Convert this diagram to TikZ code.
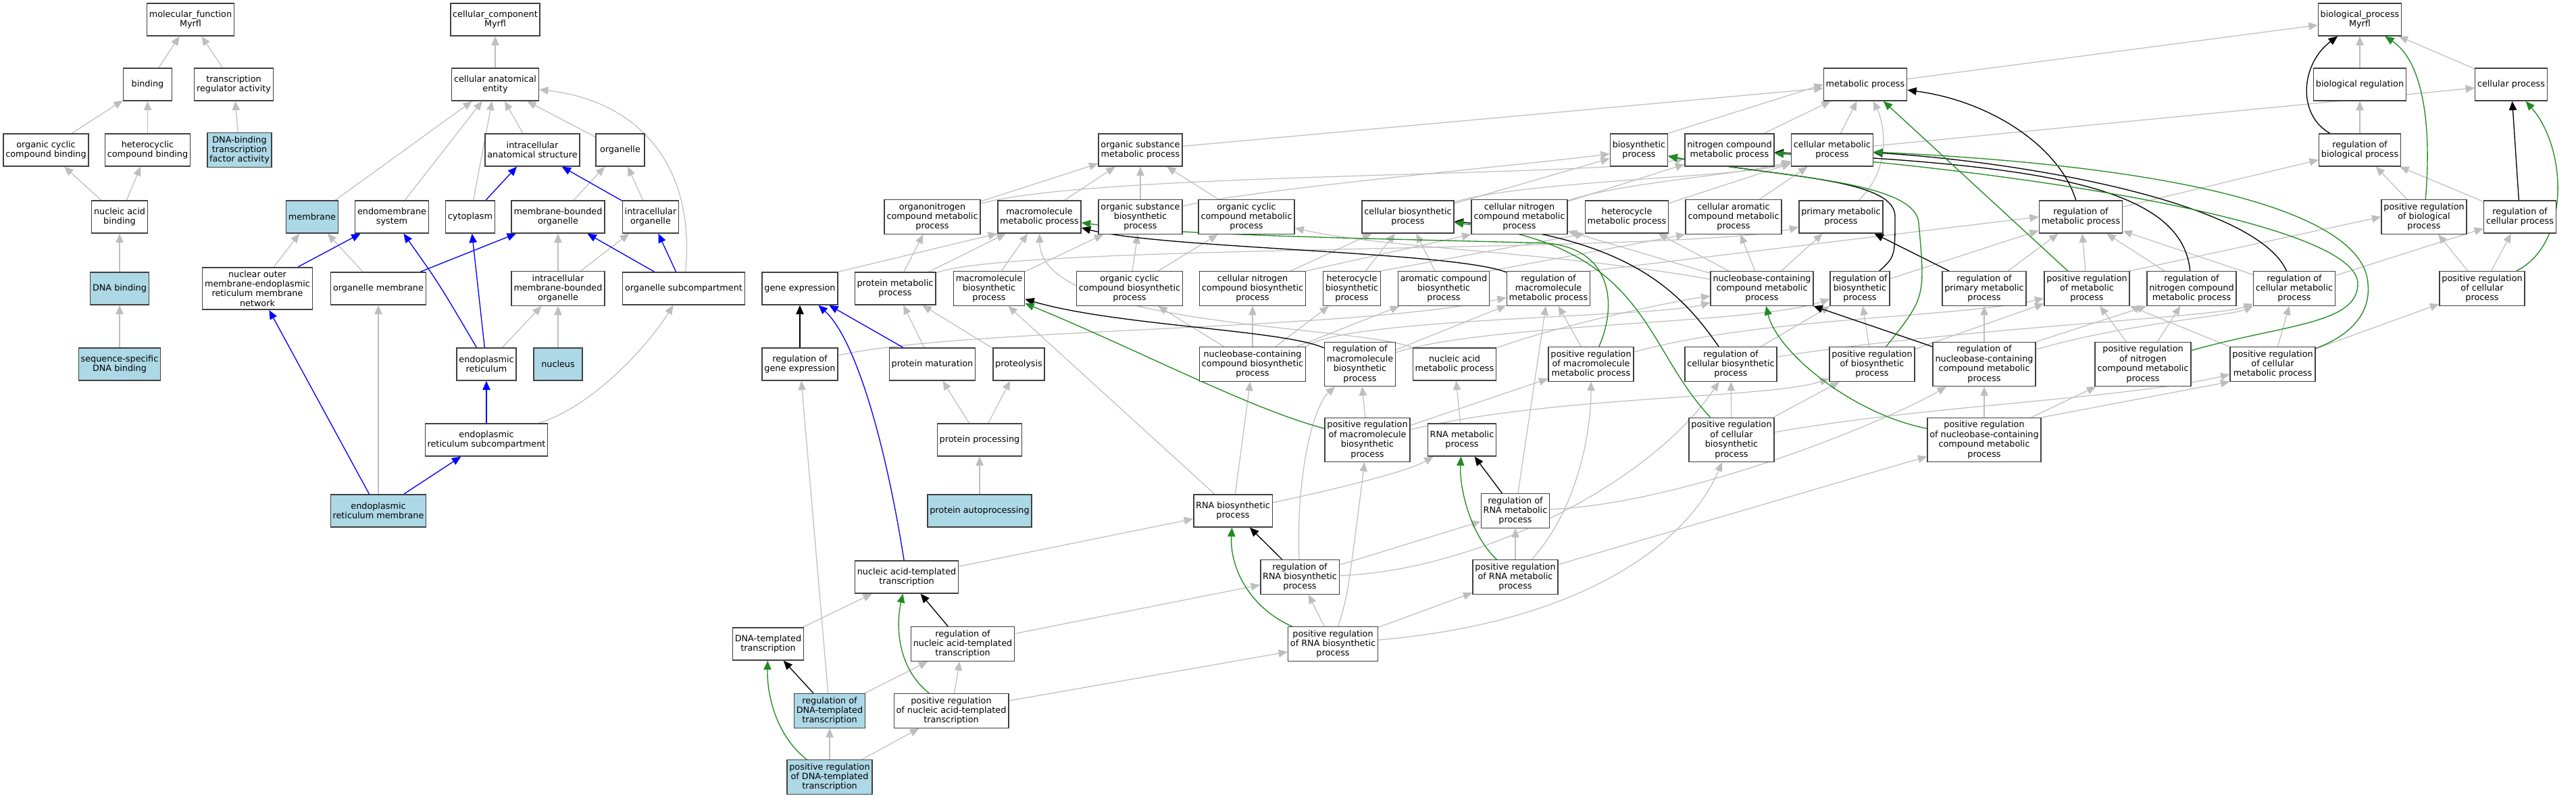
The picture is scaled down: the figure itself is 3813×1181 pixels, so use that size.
\documentclass[tikz,border=0pt]{standalone}
\usepackage{fontspec}
\setmainfont{DejaVu Sans}
\usetikzlibrary{arrows.meta}
\definecolor{isagray}{HTML}{BEBEBE}
\definecolor{hitblue}{HTML}{ADD8E6}
\definecolor{posgreen}{HTML}{228B22}
\pgfdeclarelayer{bg}
\pgfsetlayers{bg,main}
\tikzset{>/.tip={Triangle[length=10pt,width=8.5pt]}}

\begin{document}
\begin{tikzpicture}[x=0.75pt, y=-0.75pt,
  term/.style={draw=black!75, line width=1.1pt, fill=white, align=center, inner xsep=2.5pt, inner ysep=3.5pt,
    minimum width=54pt, minimum height=36pt, font=\fontsize{9.6}{10.8}\selectfont},
  hit/.style={term, fill=hitblue},
  isa/.style={->, draw=isagray, line width=0.9pt},
  partof/.style={->, draw=blue, line width=1pt},
  reg/.style={->, draw=black, line width=1pt},
  posreg/.style={->, draw=posgreen, line width=1pt}]
\useasboundingbox (0,0) rectangle (3813,1181);
\node[term] (mf) at (282,29) {molecular\_function\\Myrfl};
\node[term] (bind) at (218.5,125) {binding};
\node[term] (tra) at (346,125) {transcription\\regulator activity};
\node[term] (occb) at (68,222) {organic cyclic\\compound binding};
\node[term] (hcb) at (218.5,222) {heterocyclic\\compound binding};
\node[hit] (dbtf) at (354.5,222) {DNA-binding\\transcription\\factor activity};
\node[term] (nab) at (177,321) {nucleic acid\\binding};
\node[hit] (dnab) at (177,427) {DNA binding};
\node[hit] (ssdb) at (177,539) {sequence-specific\\DNA binding};
\node[term] (cc) at (733,29) {cellular\_component\\Myrfl};
\node[term] (cae) at (733,125) {cellular anatomical\\entity};
\node[term] (ias) at (788,222) {intracellular\\anatomical structure};
\node[term] (org) at (918,222) {organelle};
\node[hit] (memb) at (462,321) {membrane};
\node[term] (endo) at (580,321) {endomembrane\\system};
\node[term] (cyto) at (696,321) {cytoplasm};
\node[term] (mbo) at (826,321) {membrane-bounded\\organelle};
\node[term] (io) at (963,321) {intracellular\\organelle};
\node[term] (nomer) at (381,427) {nuclear outer\\membrane-endoplasmic\\reticulum membrane\\network};
\node[term] (orgm) at (560,427) {organelle membrane};
\node[term] (imbo) at (826,427) {intracellular\\membrane-bounded\\organelle};
\node[term] (osub) at (1012,427) {organelle subcompartment};
\node[term] (er) at (720,539) {endoplasmic\\reticulum};
\node[hit] (nucl) at (826,539) {nucleus};
\node[term] (ersub) at (720,651) {endoplasmic\\reticulum subcompartment};
\node[hit] (erm) at (560,756) {endoplasmic\\reticulum membrane};
\node[term] (bp) at (3493,29) {biological\_process\\Myrfl};
\node[term] (mp) at (2761,125) {metabolic process};
\node[term] (br) at (3493,125) {biological regulation};
\node[term] (cp) at (3717,125) {cellular process};
\node[term] (osmp) at (1688,222) {organic substance\\metabolic process};
\node[term] (bsp) at (2426,222) {biosynthetic\\process};
\node[term] (ncmp) at (2560,222) {nitrogen compound\\metabolic process};
\node[term] (cmp) at (2712,222) {cellular metabolic\\process};
\node[term] (rbio) at (3493,222) {regulation of\\biological process};
\node[term] (oncmp) at (1380,321) {organonitrogen\\compound metabolic\\process};
\node[term] (mmp) at (1538.5,321) {macromolecule\\metabolic process};
\node[term] (osbp) at (1688,321) {organic substance\\biosynthetic\\process};
\node[term] (occmp) at (1845,321) {organic cyclic\\compound metabolic\\process};
\node[term] (cbp) at (2084,321) {cellular biosynthetic\\process};
\node[term] (cncmp) at (2249,321) {cellular nitrogen\\compound metabolic\\process};
\node[term] (hmp) at (2408,321) {heterocycle\\metabolic process};
\node[term] (cacmp) at (2566,321) {cellular aromatic\\compound metabolic\\process};
\node[term] (primp) at (2725,321) {primary metabolic\\process};
\node[term] (rmp) at (3080,321) {regulation of\\metabolic process};
\node[term] (prbio) at (3588,321) {positive regulation\\of biological\\process};
\node[term] (rcp) at (3730,321) {regulation of\\cellular process};
\node[term] (ge) at (1184,427) {gene expression};
\node[term] (pmp) at (1325,427) {protein metabolic\\process};
\node[term] (mbp) at (1464,427) {macromolecule\\biosynthetic\\process};
\node[term] (occbp) at (1672,427) {organic cyclic\\compound biosynthetic\\process};
\node[term] (cncbp) at (1854,427) {cellular nitrogen\\compound biosynthetic\\process};
\node[term] (hbp) at (2001,427) {heterocycle\\biosynthetic\\process};
\node[term] (acbp) at (2137,427) {aromatic compound\\biosynthetic\\process};
\node[term] (rmmp) at (2292,427) {regulation of\\macromolecule\\metabolic process};
\node[term] (nccmp) at (2608,427) {nucleobase-containing\\compound metabolic\\process};
\node[term] (rbsp) at (2753,427) {regulation of\\biosynthetic\\process};
\node[term] (rpmp) at (2937,427) {regulation of\\primary metabolic\\process};
\node[term] (prmp) at (3089,427) {positive regulation\\of metabolic\\process};
\node[term] (rncmp) at (3244,427) {regulation of\\nitrogen compound\\metabolic process};
\node[term] (rcmp) at (3396,427) {regulation of\\cellular metabolic\\process};
\node[term] (prcp) at (3674,427) {positive regulation\\of cellular\\process};
\node[term] (rge) at (1184,539) {regulation of\\gene expression};
\node[term] (pmat) at (1380,539) {protein maturation};
\node[term] (prot) at (1508,539) {proteolysis};
\node[term] (nccbp) at (1854,539) {nucleobase-containing\\compound biosynthetic\\process};
\node[term] (rmbp) at (2013,539) {regulation of\\macromolecule\\biosynthetic\\process};
\node[term] (namp) at (2153,539) {nucleic acid\\metabolic process};
\node[term] (prmmp) at (2355,539) {positive regulation\\of macromolecule\\metabolic process};
\node[term] (rcbp) at (2562,539) {regulation of\\cellular biosynthetic\\process};
\node[term] (prbsp) at (2771,539) {positive regulation\\of biosynthetic\\process};
\node[term] (rnccmp) at (2937,539) {regulation of\\nucleobase-containing\\compound metabolic\\process};
\node[term] (prncmp) at (3172,539) {positive regulation\\of nitrogen\\compound metabolic\\process};
\node[term] (prcmp) at (3364,539) {positive regulation\\of cellular\\metabolic process};
\node[term] (pproc) at (1450,651) {protein processing};
\node[term] (prmbp) at (2024,651) {positive regulation\\of macromolecule\\biosynthetic\\process};
\node[term] (rnamp) at (2164,651) {RNA metabolic\\process};
\node[term] (prcbp) at (2563,651) {positive regulation\\of cellular\\biosynthetic\\process};
\node[term] (prnccmp) at (2937,651) {positive regulation\\of nucleobase-containing\\compound metabolic\\process};
\node[hit] (paut) at (1450,756) {protein autoprocessing};
\node[term] (rnabp) at (1825,756) {RNA biosynthetic\\process};
\node[term] (rrnamp) at (2243,756) {regulation of\\RNA metabolic\\process};
\node[term] (natt) at (1342,854) {nucleic acid-templated\\transcription};
\node[term] (rrnabp) at (1924,854) {regulation of\\RNA biosynthetic\\process};
\node[term] (prrnamp) at (2243,854) {positive regulation\\of RNA metabolic\\process};
\node[term] (dtt) at (1137,953) {DNA-templated\\transcription};
\node[term] (rnatt) at (1425,953) {regulation of\\nucleic acid-templated\\transcription};
\node[term] (prrnabp) at (1973,953) {positive regulation\\of RNA biosynthetic\\process};
\node[hit] (rdtt) at (1228,1052) {regulation of\\DNA-templated\\transcription};
\node[term] (prnatt) at (1408,1052) {positive regulation\\of nucleic acid-templated\\transcription};
\node[hit] (prdtt) at (1228,1150) {positive regulation\\of DNA-templated\\transcription};
\begin{pgfonlayer}{bg}
\fill[white] (0,0) rectangle (3813,1181);
\foreach \a/\b in {bind/mf, tra/mf, occb/bind, hcb/bind, dbtf/tra, nab/occb, nab/hcb, dnab/nab, ssdb/dnab,
  cae/cc, ias/cae, org/cae, memb/cae, endo/cae, cyto/cae, mbo/org, io/org, nomer/memb, orgm/memb,
  imbo/mbo, imbo/io, er/imbo, nucl/imbo, erm/orgm,
  mp/bp, br/bp, cp/bp, osmp/mp, ncmp/mp, cmp/mp, cmp/cp, rbio/br, rmp/rbio, prbio/rbio, rcp/rbio,
  oncmp/osmp, mmp/osmp, osbp/osmp, occmp/osmp, cbp/bsp, cncmp/ncmp, hmp/cmp, cacmp/cmp,
  pmp/mmp, pmp/oncmp, mbp/mmp, mbp/osbp, occbp/osbp, occbp/occmp, cncbp/cbp, hbp/cbp, acbp/cbp,
  nccmp/hmp, nccmp/cacmp, nccmp/primp, nccmp/cncmp, rbsp/rmp, rpmp/rmp, prmp/rmp, rncmp/rmp, rcmp/rmp,
  rcmp/rcp, prcp/prbio, prcp/rcp,
  pmat/pmp, prot/pmp, nccbp/hbp, nccbp/acbp, nccbp/occbp, nccbp/cncbp, rmbp/rmmp, prmmp/rmmp,
  rcbp/rbsp, prbsp/rbsp, prbsp/prmp, rnccmp/rpmp, prncmp/rncmp, prncmp/prmp, prcmp/rcmp, prcmp/prcp,
  prcmp/prmp, pproc/pmat, pproc/prot, prmbp/rmbp, prmbp/prmmp, rnamp/namp, prcbp/rcbp, prcbp/prbsp,
  prnccmp/rnccmp, prnccmp/prncmp, paut/pproc, rnabp/nccbp, rnabp/mbp, rrnamp/rmmp,
  natt/rnabp, rrnabp/rrnamp, prrnamp/rrnamp, prrnamp/prnccmp, dtt/natt, rnatt/rrnabp,
  prrnabp/rrnabp, prrnabp/prrnamp, rdtt/rnatt, rdtt/rge, prnatt/rnatt, prnatt/prrnabp,
  prdtt/rdtt, prdtt/prnatt}
  \draw[isa] (\a) -- (\b);
\draw[isa] (bsp.north east) -- (mp.west);
\draw[isa] (ge.north east) -- (mmp.south west);
\draw[isa] (cncbp.north east) -- (cncmp.south west);
\draw[isa] (hbp.north east) -- (hmp.south west);
\draw[isa] (acbp.north east) -- (cacmp.south west);
\draw[isa] (rmmp.north east) -- (rmp.west);
\draw[isa] (prmp.north east) -- (prbio.west);
\draw[isa] (rnccmp.north east) -- (rncmp.south west);
\draw[isa] (prnccmp.north east) -- (prcmp.south west);
\draw[isa] (osub) .. controls (1030,250) and (950,150) .. (cae);
\draw[isa] (ersub) .. controls (880,600) and (960,510) .. (osub);
\draw[isa] (primp) .. controls (2800,250) and (2790,185) .. (mp);
\draw[isa] (pmp) .. controls (1500,360) and (2500,375) .. (primp);
\draw[isa] (oncmp) .. controls (1620,255) and (2350,262) .. (ncmp);
\draw[isa] (osbp) .. controls (1850,280) and (2250,245) .. (bsp);
\draw[isa] (cbp) .. controls (2250,268) and (2580,262) .. (cmp);
\draw[isa] (cncmp) .. controls (2400,270) and (2580,258) .. (cmp);
\draw[isa] (nccmp) .. controls (2300,372) and (2050,368) .. (occmp);
\draw[isa] (rge) .. controls (1420,485) and (2000,490) .. (rmmp);
\draw[isa] (nccbp.north east) .. controls (1990,470) and (2450,470) .. (nccmp);
\draw[isa] (rmbp) .. controls (2200,478) and (2600,480) .. (rbsp);
\draw[isa] (namp) .. controls (2280,490) and (2450,450) .. (nccmp);
\draw[isa] (namp.north west) .. controls (2000,480) and (1540,485) .. (mmp);
\draw[isa] (prmmp) .. controls (2600,470) and (2900,470) .. (prmp);
\draw[isa] (rcbp) .. controls (2900,485) and (3280,470) .. (rcmp);
\draw[isa] (rnccmp) .. controls (3150,478) and (3300,468) .. (rcmp);
\draw[isa] (prmbp) .. controls (2300,585) and (2620,590) .. (prbsp);
\draw[isa] (prcbp) .. controls (2850,600) and (3150,590) .. (prcmp);
\draw[isa] (rnabp) .. controls (1950,730) and (2080,700) .. (rnamp);
\draw[isa] (rrnamp) .. controls (2500,745) and (2800,620) .. (rnccmp);
\draw[isa] (rrnabp) .. controls (1918,700) and (1945,600) .. (rmbp);
\draw[isa] (rrnabp) .. controls (2180,845) and (2440,720) .. (rcbp);
\draw[isa] (prrnamp) .. controls (2330,760) and (2355,650) .. (prmmp);
\draw[isa] (prrnabp) .. controls (1995,880) .. (prmbp);
\draw[isa] (prrnabp) .. controls (2350,920) and (2500,800) .. (prcbp);
\foreach \a/\b in {cyto/ias, io/ias, nomer/endo, orgm/mbo, osub/mbo, osub/io, er/cyto, ersub/er,
  erm/nomer, erm/ersub, pmat/ge}
  \draw[partof] (\a) -- (\b);
\draw[partof] (er) .. controls (650,420) .. (endo);
\draw[partof] (natt) .. controls (1310,650) and (1265,500) .. (ge);
\foreach \a/\b in {rge/ge, rpmp/primp, rnccmp/nccmp, rcp/cp, rrnabp/rnabp, rrnamp/rnamp, rnatt/natt, rdtt/dtt}
  \draw[reg] (\a) -- (\b);
\draw[reg] (rbio) .. controls (3400,170) and (3405,95) .. (bp);
\draw[reg] (rmp) .. controls (3050,220) and (2950,150) .. (mp);
\draw[reg] (rcmp) .. controls (3340,300) and (3000,240) .. (cmp);
\draw[reg] (rncmp) .. controls (3230,270) and (3000,245) .. (ncmp);
\draw[reg] (rbsp) .. controls (2805,380) .. (2805,320) .. controls (2805,262) and (2620,262) .. (bsp);
\draw[reg] (rmmp) .. controls (2150,372) and (1720,368) .. (mmp);
\draw[reg] (rmbp) .. controls (1900,488) and (1650,482) .. (mbp);
\draw[reg] (rcbp) .. controls (2480,420) and (2400,352) .. (cbp);
\draw[posreg] (prmp) -- (mp);
\draw[posreg] (prbio) .. controls (3600,180) and (3585,90) .. (bp);
\draw[posreg] (prcp) .. controls (3805,360) and (3800,220) .. (cp);
\draw[posreg] (prcmp) .. controls (3470,500) and (3510,470) .. (3505,420) .. controls (3500,330) and (3300,250) .. (cmp);
\draw[posreg] (prncmp) .. controls (3380,480) and (3490,480) .. (3490,420) .. controls (3490,330) and (3000,255) .. (ncmp);
\draw[posreg] (prmmp) .. controls (2395,450) and (2385,368) .. (2290,360) .. controls (2100,354) and (1750,350) .. (mmp);
\draw[posreg] (prmbp) .. controls (1850,605) and (1690,520) .. (mbp);
\draw[posreg] (prcbp) .. controls (2430,510) and (2440,365) .. (cbp);
\draw[posreg] (prbsp) .. controls (2850,440) .. (2840,330) .. controls (2835,265) and (2620,262) .. (bsp);
\draw[posreg] (prnccmp) .. controls (2740,612) and (2630,520) .. (nccmp);
\draw[posreg] (prrnabp) .. controls (1850,900) and (1820,840) .. (rnabp);
\draw[posreg] (prrnamp) .. controls (2175,790) and (2160,720) .. (rnamp);
\draw[posreg] (prnatt) .. controls (1330,990) and (1325,930) .. (natt);
\draw[posreg] (prdtt) .. controls (1150,1090) and (1135,1030) .. (dtt);
\end{pgfonlayer}
\end{tikzpicture}
\end{document}
